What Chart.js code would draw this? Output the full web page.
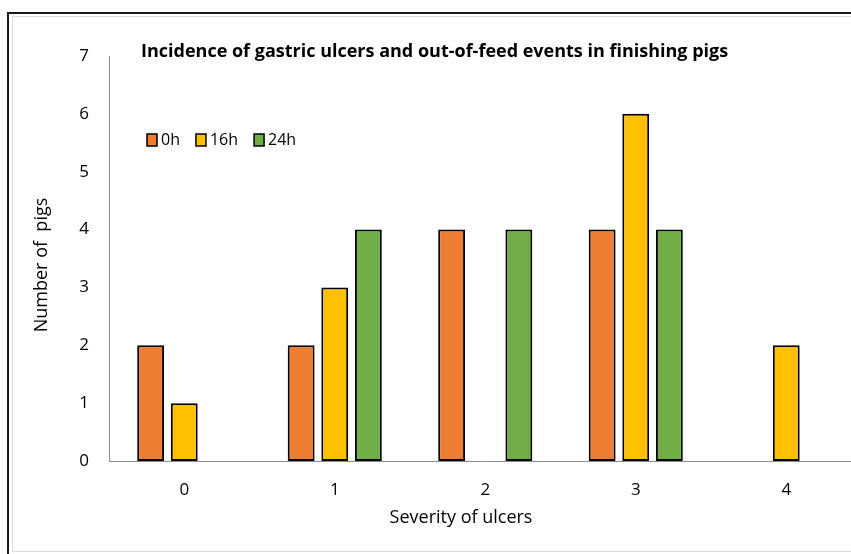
<!DOCTYPE html>
<html>
<head>
<meta charset="utf-8">
<script src="https://cdn.jsdelivr.net/npm/chart.js@4"></script>
<style>
  html, body { margin: 0; padding: 0; background: #fff; overflow: hidden; width: 851px; height: 554px; }
  #frame { position: absolute; left: 7px; top: 12px; width: 900px; height: 600px;
           border-left: 2px solid #1a1a1a; border-top: 2px solid #1a1a1a; }
  #inner { position: absolute; left: 12px; top: 16px; width: 900px; height: 534px;
           border: 1px solid #d9d9d9; }
  #wrap { position: absolute; left: 0; top: 0; width: 880px; height: 554px; }
</style>
</head>
<body>
<div id="frame"></div>
<div id="inner"></div>
<div id="wrap"><canvas id="c" width="880" height="554"></canvas></div>
<script>
const severity = ['0', '1', '2', '3', '4'];
const pigs0h  = [2, 2, 4, 4, null];
const pigs16h = [1, 3, null, 6, 2];
const pigs24h = [null, 4, 4, 4, null];
const yTicks = [0, 1, 2, 3, 4, 5, 6, 7];

const FONT = '"Open Sans", "Liberation Sans", sans-serif';

// Title, axis titles and an in-plot legend drawn on the canvas
const annotations = {
  id: 'annotations',
  afterDraw(chart) {
    const ctx = chart.ctx;
    ctx.save();
    ctx.fillStyle = '#000';
    ctx.textBaseline = 'middle';

    ctx.font = 'bold 18px ' + FONT;
    ctx.textAlign = 'left';
    const title = 'Incidence of gastric ulcers and out-of-feed events in finishing pigs';
    ctx.fillText(title, 141, 52);

    ctx.font = '18px ' + FONT;
    ctx.textAlign = 'center';
    ctx.fillText('Severity of ulcers', 461, 518);

    ctx.save();
    ctx.translate(42, 265);
    ctx.rotate(-Math.PI / 2);
    ctx.fillText('Number of  pigs', 0, 0);
    ctx.restore();

    // legend
    ctx.font = '16px ' + FONT;
    ctx.textAlign = 'left';
    let x = 147;
    const y = 140;
    chart.data.datasets.forEach(ds => {
      ctx.fillStyle = ds.backgroundColor;
      ctx.fillRect(x, y - 6, 10, 12);
      ctx.strokeStyle = '#000';
      ctx.lineWidth = 1.5;
      ctx.strokeRect(x, y - 6, 10, 12);
      ctx.fillStyle = '#000';
      ctx.fillText(ds.label, x + 14, y);
      x += 14 + ctx.measureText(ds.label).width + 16;
    });
    ctx.restore();
  }
};

new Chart(document.getElementById('c'), {
  type: 'bar',
  data: {
    labels: severity,
    datasets: [
      { label: '0h',  data: pigs0h,  backgroundColor: '#ED7D31' },
      { label: '16h', data: pigs16h, backgroundColor: '#FFC000' },
      { label: '24h', data: pigs24h, backgroundColor: '#70AD47' }
    ].map(d => Object.assign(d, {
      borderColor: '#000', borderWidth: 2, borderSkipped: false,
      barPercentage: 0.8, categoryPercentage: 0.67, skipNull: false
    }))
  },
  options: {
    responsive: false,
    animation: false,
    layout: { padding: { left: 0, top: 56, right: 18.5, bottom: 0 } },
    plugins: { legend: { display: false }, title: { display: false }, tooltip: { enabled: false } },
    scales: {
      x: {
        grid: { display: false, drawTicks: false },
        border: { color: '#8c8c8c', width: 1 },
        ticks: { color: '#000', font: { family: FONT, size: 17 }, padding: 19 },
        afterFit(s) { s.height = 93; }
      },
      y: {
        min: 0, max: 7,
        afterBuildTicks(s) { s.ticks = yTicks.map(v => ({ value: v })); },
        grid: { display: false, drawTicks: false },
        border: { color: '#8c8c8c', width: 1 },
        ticks: { color: '#000', font: { family: FONT, size: 17 }, padding: 20 },
        afterFit(s) { s.width = 109; }
      }
    }
  },
  plugins: [annotations]
});
</script>
</body>
</html>
